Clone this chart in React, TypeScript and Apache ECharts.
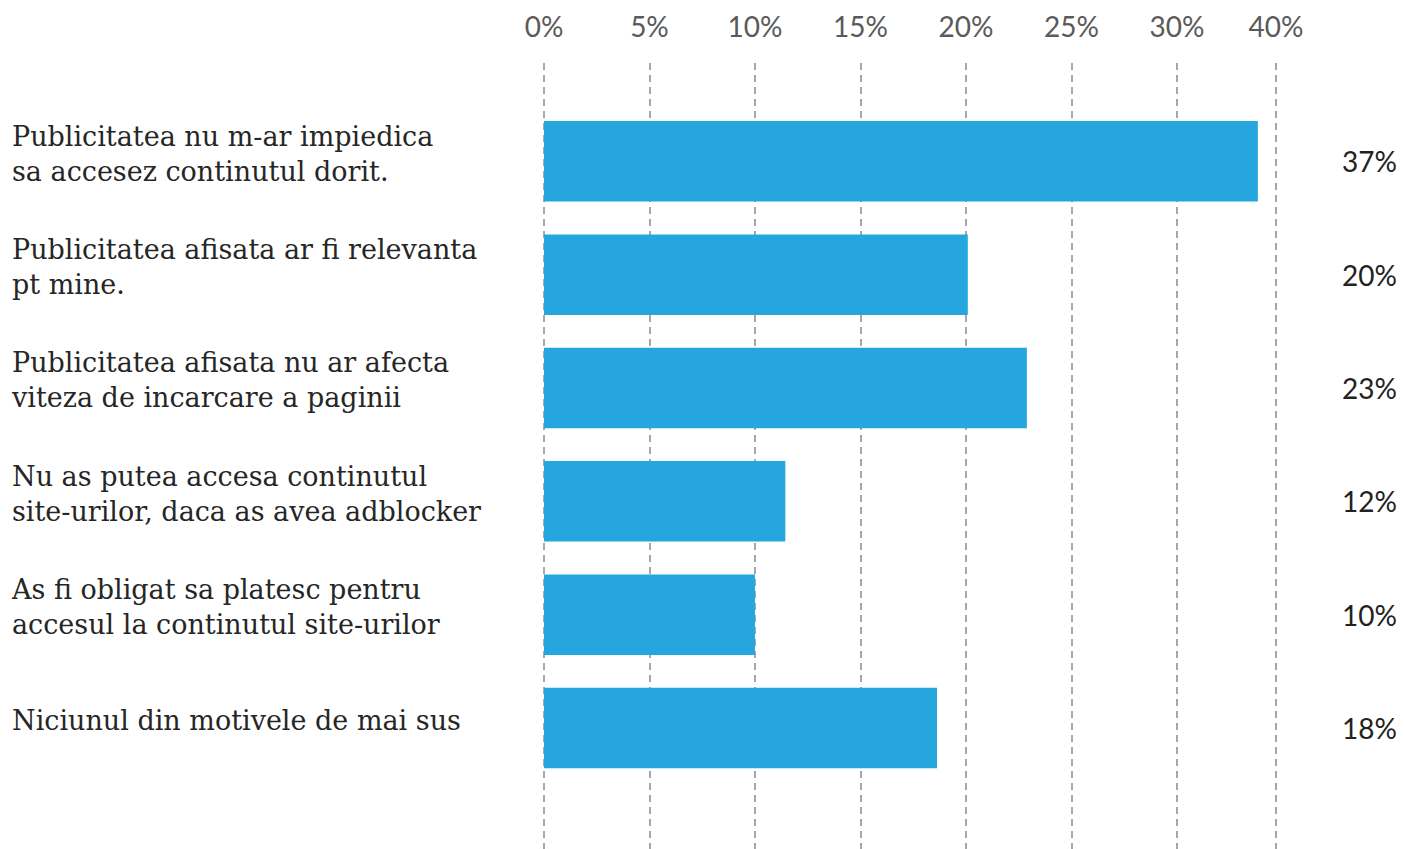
import React, { useEffect, useRef } from "react";
import * as echarts from "echarts";

const categories = [
  "Publicitatea nu m-ar impiedica\nsa accesez continutul dorit.",
  "Publicitatea afisata ar fi relevanta\npt mine.",
  "Publicitatea afisata nu ar afecta\nviteza de incarcare a paginii",
  "Nu as putea accesa continutul\nsite-urilor, daca as avea adblocker",
  "As fi obligat sa platesc pentru\naccesul la continutul site-urilor",
  "Niciunul din motivele de mai sus",
];
// bar lengths as drawn against the axis
const barValues = [33.84, 20.09, 22.89, 11.44, 10.0, 18.63];
// value labels printed at the right
const valueLabels = ["37%", "20%", "23%", "12%", "10%", "18%"];
// tick labels as printed on the top axis
const tickLabels = ["0%", "5%", "10%", "15%", "20%", "25%", "30%", "40%"];
const axisMax = 34.7;

export default function App() {
  const ref = useRef<HTMLDivElement>(null);
  useEffect(() => {
    if (!ref.current) return;
    const chart = echarts.init(ref.current, undefined, { renderer: "svg" });
    const sans = "Lato, 'Open Sans', sans-serif";
    const serif = "'DejaVu Serif', serif";
    chart.setOption({
      animation: false,
      backgroundColor: "#ffffff",
      grid: [
        { left: 544, width: 732, top: 104.65, height: 680 },
        { left: 544, width: 732, top: 63, height: 786 },
      ],
      xAxis: [
        {
          type: "value",
          gridIndex: 0,
          min: 0,
          max: axisMax,
          interval: 5,
          show: false,
          splitLine: { show: false },
        },
        {
          type: "value",
          gridIndex: 1,
          position: "top",
          min: 0,
          max: axisMax,
          interval: 5,
          axisLine: { show: false },
          axisTick: { show: false },
          axisLabel: {
            margin: 23,
            fontFamily: sans,
            fontSize: 28,
            color: "#5a5a5a",
            formatter: (_v: number, i: number) => tickLabels[i] ?? "",
          },
          splitLine: {
            show: true,
            lineStyle: { color: "#8a8a8a", width: 1.5, type: [7, 5] },
          },
        },
      ],
      yAxis: [
        {
          type: "category",
          gridIndex: 0,
          data: categories,
          inverse: true,
          axisLine: { show: false },
          axisTick: { show: false },
          splitLine: { show: false },
          axisLabel: {
            margin: 532,
            align: "left",
            fontFamily: serif,
            fontSize: 27,
            lineHeight: 35,
            color: "#262626",
            formatter: (v: string) =>
              v
                .split("\n")
                .map((l) => `{t|${l}}`)
                .join("\n") + "\n{s| }",
            rich: {
              t: {
                fontFamily: serif,
                fontSize: 27,
                lineHeight: 35,
                color: "#262626",
              },
              s: { fontSize: 1, lineHeight: 15 },
            },
          },
        },
        {
          type: "category",
          gridIndex: 0,
          position: "right",
          data: valueLabels,
          inverse: true,
          axisLine: { show: false },
          axisTick: { show: false },
          splitLine: { show: false },
          axisLabel: {
            margin: 66,
            align: "left",
            fontFamily: sans,
            fontSize: 28,
            color: "#222222",
          },
        },
        {
          type: "value",
          gridIndex: 1,
          show: false,
          splitLine: { show: false },
        },
      ],
      series: [
        {
          type: "bar",
          xAxisIndex: 0,
          yAxisIndex: 0,
          data: barValues,
          barWidth: 80.5,
          itemStyle: { color: "#26a6df" },
          z: 5,
        },
      ],
    });
    return () => chart.dispose();
  }, []);
  return (
    <div
      ref={ref}
      style={{ position: "fixed", left: 0, top: 0, width: 1404, height: 849 }}
    />
  );
}
